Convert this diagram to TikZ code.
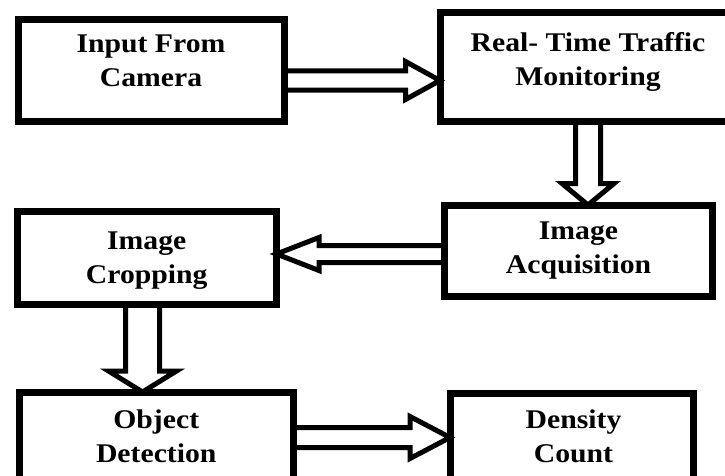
\documentclass[tikz,border=0pt]{standalone}
\usepackage{fontspec}
\setmainfont{Liberation Serif}[FakeStretch=1.1]
\usetikzlibrary{calc,backgrounds}
\tikzset{
  box/.style={draw, line width=7pt, line join=miter, inner sep=0pt, outer sep=0pt},
  txt/.style={font=\bfseries\fontsize{27}{34}\selectfont, align=center, inner sep=0pt, anchor=north},
  blockarrow/.style n args={3}{draw, line width=5pt, line join=miter, fill=white,
    to path={($(\tikztostart)!#1!90:(\tikztotarget)$)
      -- ($($(\tikztotarget)!#3!(\tikztostart)$)!#1!90:(\tikztotarget)$)
      -- ($($(\tikztotarget)!#3!(\tikztostart)$)!#2!90:(\tikztotarget)$)
      -- (\tikztotarget)
      -- ($($(\tikztotarget)!#3!(\tikztostart)$)!#2!-90:(\tikztotarget)$)
      -- ($($(\tikztotarget)!#3!(\tikztostart)$)!#1!-90:(\tikztotarget)$)
      -- ($(\tikztostart)!#1!-90:(\tikztotarget)$) -- cycle}}
}
\begin{document}
\begin{tikzpicture}[x=1pt,y=-1pt]
\useasboundingbox (0,0) rectangle (725,476);
% boxes
\node[box, minimum width=266pt, minimum height=102pt] (b1) at (151,70.5) {};
\node[box, minimum width=296pt, minimum height=109pt] (b2) at (588,67) {};
\node[box, minimum width=268pt, minimum height=91.5pt] (b3) at (578.5,250.75) {};
\node[box, minimum width=259.5pt, minimum height=93pt] (b4) at (146.75,258) {};
\node[box, minimum width=273.5pt, minimum height=89pt] (b5) at (156.25,436.5) {};
\node[box, minimum width=243pt, minimum height=88pt] (b6) at (571.5,437) {};
% texts
\node[txt] (t1) at ($(b1.north)+(0,15.5)$) {Input From\\Camera};
\node[txt] (t2) at ($(b2.north)+(0,19.5)$) {Real- Time Traffic\\Monitoring};
\node[txt] (t3) at ($(b3.north)+(0,16.7)$) {Image\\Acquisition};
\node[txt] (t4) at ($(b4.north)+(0,20)$) {Image\\Cropping};
\node[txt] (t5) at ($(b5.north)+(0,18)$) {Object\\Detection};
\node[txt] (t6) at ($(b6.north)+(2,17)$) {Density\\Count};
% block arrows
\begin{pgfonlayer}{background}
\draw[blockarrow={9.7pt}{19pt}{34.5pt}] (b1.east |- 0,80.5) to (b2.west |- 0,80.5);
\draw[blockarrow={12.5pt}{26pt}{21.5pt}] (b2.south -| 588,0) to (b3.north -| 588,0);
\draw[blockarrow={8.5pt}{16.5pt}{42.5pt}] (b3.west |- 0,254) to (b4.east |- 0,254);
\draw[blockarrow={17pt}{34pt}{21pt}] (b4.south -| 142.5,0) to (b5.north -| 142.5,0);
\draw[blockarrow={10pt}{21pt}{40pt}] (b5.east |- 0,437.5) to (b6.west |- 0,437.5);
\end{pgfonlayer}
\end{tikzpicture}
\end{document}
